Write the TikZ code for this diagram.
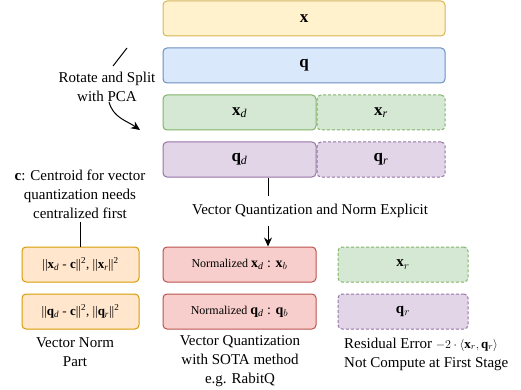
\documentclass[tikz,border=0pt]{standalone}
\usepackage{fontspec}
\setmainfont{Liberation Serif}
\usetikzlibrary{arrows.meta}
\definecolor{yfill}{HTML}{FFF2CC}\definecolor{ydraw}{HTML}{D6B656}
\definecolor{bfill}{HTML}{DAE8FC}\definecolor{bdraw}{HTML}{6C8EBF}
\definecolor{gfill}{HTML}{D5E8D4}\definecolor{gdraw}{HTML}{82B366}
\definecolor{pfill}{HTML}{E1D5E7}\definecolor{pdraw}{HTML}{9673A6}
\definecolor{ofill}{HTML}{FFE6CC}\definecolor{odraw}{HTML}{D79B00}
\definecolor{rfill}{HTML}{F8CECC}\definecolor{rdraw}{HTML}{B85450}
\newcommand{\bsub}[2]{\textbf{#1}\textsubscript{\textit{#2}}}
\begin{document}
\begin{tikzpicture}[x=1pt,y=-1pt,font=\fontsize{15}{19}\selectfont,
		box/.style={draw,line width=1pt,rounded corners=4pt,minimum height=35pt,inner sep=0pt},
		dbox/.style={box,dash pattern=on 3pt off 2pt},
		lbl/.style={align=center,inner sep=0pt}]
		\useasboundingbox (0,0) rectangle (521,390);
		\node[box,fill=yfill,draw=ydraw,minimum width=282pt] (x) at (304,18.5) {\fontsize{17}{20}\selectfont\textbf{x}};
		\node[box,fill=bfill,draw=bdraw,minimum width=282pt] (q) at (304,65.5) {\fontsize{17}{20}\selectfont\textbf{q}};
		\node[box,fill=gfill,draw=gdraw,minimum width=153pt] (xd) at (239.5,112.5) {\fontsize{17}{20}\selectfont\bsub{x}{d}};
		\node[dbox,fill=gfill,draw=gdraw,minimum width=128pt] (xr) at (381,112.5) {\fontsize{17}{20}\selectfont\bsub{x}{r}};
		\node[box,fill=pfill,draw=pdraw,minimum width=153pt] (qd) at (239.5,159.5) {\fontsize{17}{20}\selectfont\bsub{q}{d}};
		\node[dbox,fill=pfill,draw=pdraw,minimum width=128pt] (qr) at (381,159.5) {\fontsize{17}{20}\selectfont\bsub{q}{r}};
		\node[box,fill=ofill,draw=odraw,minimum width=117pt] (nx) at (80.5,264.5) {\fontsize{13}{15}\selectfont||\bsub{x}{d} - \textbf{c}||\textsuperscript{2}, ||\bsub{x}{r}||\textsuperscript{2}};
		\node[box,fill=ofill,draw=odraw,minimum width=117pt] (nq) at (80.5,311.5) {\fontsize{13}{15}\selectfont||\bsub{q}{d} - \textbf{c}||\textsuperscript{2}, ||\bsub{q}{r}||\textsuperscript{2}};
		\node[box,fill=rfill,draw=rdraw,minimum width=153pt] (vx) at (239.5,264.5) {\fontsize{12}{14}\selectfont Normalized \fontsize{14}{16}\selectfont\bsub{x}{d} : $\mathbf{x}_b$};
		\node[box,fill=rfill,draw=rdraw,minimum width=153pt] (vq) at (239.5,311.5) {\fontsize{12}{14}\selectfont Normalized \fontsize{14}{16}\selectfont\bsub{q}{d} : $\mathbf{q}_b$};
		\node[dbox,fill=gfill,draw=gdraw,minimum width=130pt] (rx) at (403,264.5) {$\mathbf{x}_r$};
		\node[dbox,fill=pfill,draw=pdraw,minimum width=130pt] (rq) at (403,311.5) {$\mathbf{q}_r$};
		\node[lbl] (rot) at (107,87) {Rotate and Split\\with PCA};
		\node[lbl,minimum height=30pt] (vql) at (310,211) {Vector Quantization and Norm Explicit};
		\node[lbl] (cen) at (80,194) {\textbf{c}: Centroid for vector\\quantization needs\\centralized first};
		\node[lbl] (nlbl) at (75,352) {Vector Norm\\Part};
		\node[lbl] (vlbl) at (240,361) {Vector Quantization\\with SOTA method\\e.g. RabitQ};
		\node[lbl,align=left,anchor=west] (rlbl) at (344,354) {Residual Error {\fontsize{13}{15}\selectfont$-2\cdot\langle\mathbf{x}_r,\mathbf{q}_r\rangle$}\\Not Compute at First Stage};
		\coordinate (rs) at (127,48);
		\coordinate (rm) at (113,66);
		\coordinate (re) at (140,130);
		\draw[line width=1pt] (rs) -- (rm);
		\draw[line width=1pt,-{Stealth[length=9pt,width=8pt]}] ([xshift=2pt]rot.south) to[out=-75,in=145] (re);
		\draw[line width=1pt] ([xshift=28.5pt]qd.south) -- ([xshift=28.5pt]qd.south |- vql.north);
		\draw[line width=1pt,-{Stealth[length=9pt,width=8pt]}] ([xshift=28.5pt]vx.north |- vql.south) -- ([xshift=28.5pt]vx.north);
		\draw[line width=1.6pt] (cen.south -| nx.north) ++(0,3) -- (nx.north);
	\end{tikzpicture}
\end{document}
